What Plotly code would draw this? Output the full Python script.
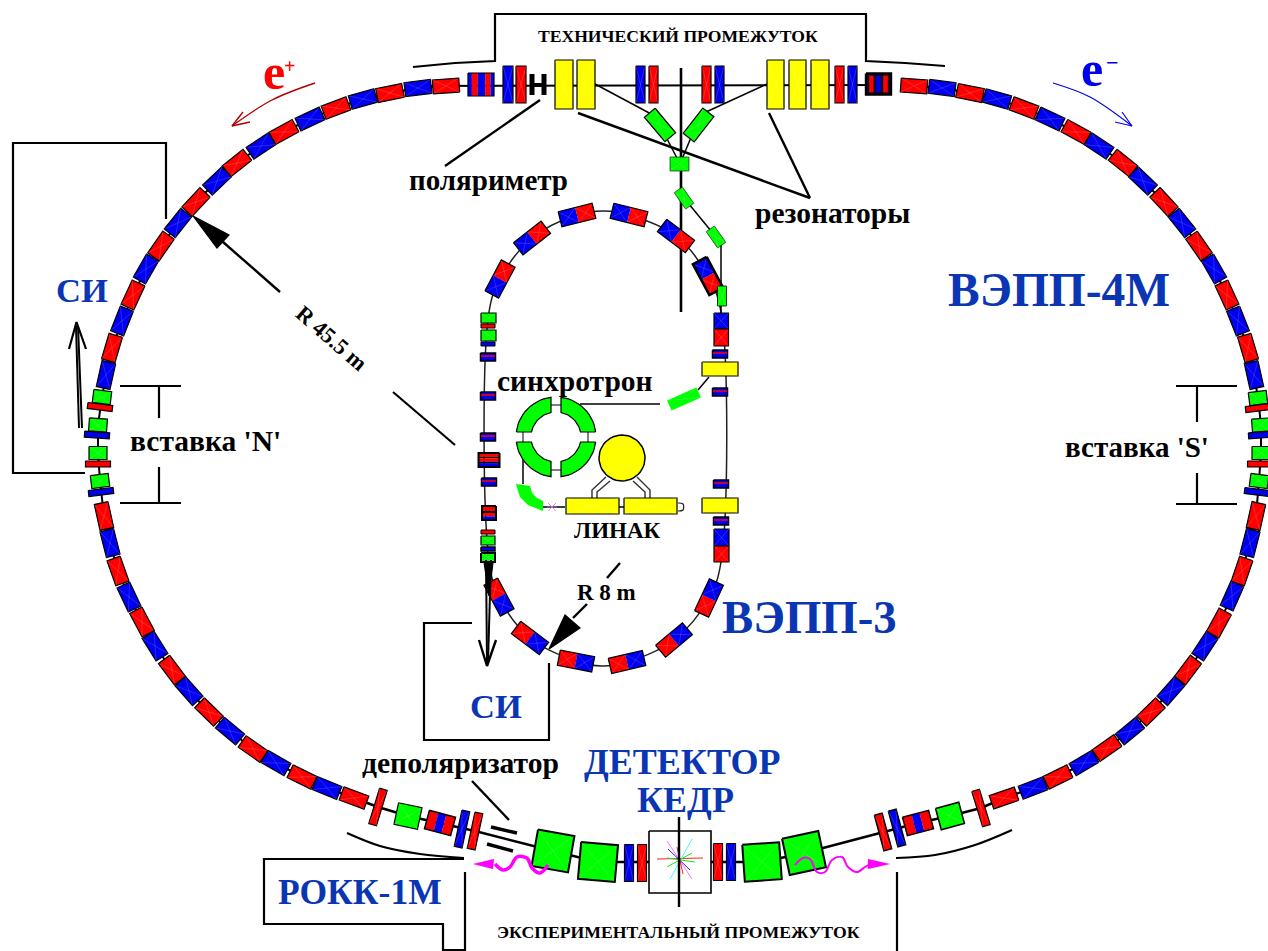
import math
import plotly.graph_objects as go

RED, BLUE, GREEN, YEL, BK = "#ff0000", "#0000f0", "#00ff00", "#ffff00", "#000000"
LBL = "#0a36b4"

# ---- VEPP-4M ring dipoles: centres, colour letters
upper_right_x = [914, 942, 970, 997, 1024, 1050, 1076, 1099, 1123, 1143, 1164, 1182, 1199, 1214, 1227, 1238, 1248, 1254]
upper_right_y = [86, 88, 93, 99, 108, 119, 132, 146, 163, 181, 202, 223, 246, 269, 295, 321, 348, 375]
upper_right_c = "RBRBRBRBRBRBRBRBRB"
upper_left_x = [446, 418, 390, 363, 336, 310, 284, 261, 237, 217, 196, 178, 161, 146, 133, 122, 112, 106]
upper_left_y = [86, 88, 93, 99, 108, 119, 132, 146, 163, 181, 202, 223, 246, 269, 295, 321, 348, 375]
upper_left_c = "RBRBRBRBRBRBRBRBRB"
lower_left_x = [104, 110, 118, 129, 142, 155, 172, 189, 209, 230, 253, 276, 302, 327, 354]
lower_left_y = [516, 543, 571, 597, 622, 646, 670, 691, 712, 731, 749, 763, 777, 788, 798]
lower_left_c = "RBRBRBRBRBRBRBR"
lower_right_x = [1256, 1250, 1242, 1232, 1219, 1205, 1188, 1171, 1151, 1130, 1107, 1084, 1058, 1033, 1004]
lower_right_y = [516, 543, 571, 596, 623, 646, 670, 691, 712, 731, 748, 763, 777, 788, 798]
lower_right_c = "RBRBRBRBRBRBRBR"

# ---- insertion straight sections
ins_left_gx = [102, 98, 98, 100]
ins_left_gy = [397, 425, 453, 481]
ins_left_tx = [100, 97, 98, 101]
ins_left_ty = [407, 435, 464, 492]
ins_tilt = [7, 4, 0, -7]
ins_right_gx = [1258, 1261, 1261, 1259]
ins_right_gy = [398, 425, 453, 481]
ins_right_tx = [1258, 1261, 1260, 1257]
ins_right_ty = [408, 435, 464, 492]
ins_c = "RBRB"

# ---- technical gap, straight elements (x0, x1)
top_yellow = [(555, 573), (577, 595), (767, 784), (789, 806), (811, 829)]
top_thin = [(503, 513, "B"), (516, 526, "R"), (636, 645, "B"), (649, 658, "R"),
            (702, 711, "R"), (715, 724, "B"), (835, 844, "R"), (848, 857, "B")]

# ---- experimental gap elements: x, y, len, width, angle, colour, border
exp_x = [378, 408, 462, 475, 553, 598, 629, 642, 718, 731, 762, 804, 883, 897, 950, 981]
exp_y = [807, 816, 829, 831, 851, 862, 863, 863, 862, 862, 862, 853, 832, 828, 816, 808]
exp_len = [8, 24, 8, 8, 37, 37, 9, 9, 9, 9, 37, 37, 8, 8, 24, 8]
exp_wid = [37, 22, 37, 37, 37, 37, 37, 37, 37, 37, 37, 37, 37, 37, 22, 37]
exp_ang = [17, 12, 12, 12, 10, 5, 0, 0, 0, 0, -4, -12, -15, -15, -15, -17]
exp_col = "RGBRGGBRRBGGRBGR"
exp_lw = [1.2, 1.2, 1.2, 1.2, 2, 2, 1.2, 1.2, 1.2, 1.2, 2, 2, 1.5, 1.5, 1.5, 1.2]

# ---- VEPP-3 dipoles: x, y, angle, first/second half colours, border
v3_x = [500, 532, 577, 629, 676, 708, 709, 674, 627, 576, 530, 499]
v3_y = [279, 238, 215, 215, 236, 276, 598, 640, 662, 661, 638, 597]
v3_ang = [-62, -38, -14, 14, 37, 62, -65, -40, -13, 11, 37, 62]
v3_c1 = "BBBBBBRRRRRR"
v3_c2 = "RRRRRRBBBBBB"
v3_lw = [1.2, 1.2, 1.2, 1.2, 1.2, 2.6, 1.2, 1.2, 1.2, 1.2, 1.2, 1.2]
v3_thin_x = [488, 488, 488, 489, 720, 720, 721, 721]
v3_thin_y = [357, 396, 437, 482, 354, 392, 484, 521]

beam_top_x = [406, 890]
beam_top_y = [86, 85]
beam_exp_x = [354, 378, 408, 440, 475, 553, 598, 680, 762, 804, 883, 918, 950, 981, 1004]
beam_exp_y = [798, 807, 816, 823, 831, 851, 862, 862, 862, 853, 832, 823, 816, 808, 798]
beam_v3_x = [489, 489, 500, 532, 577, 604, 629, 676, 708, 721, 721, 709, 674, 627, 602, 576, 530, 499, 489]
beam_v3_y = [560, 312, 279, 238, 215, 211, 215, 236, 276, 312, 562, 598, 640, 662, 666, 661, 638, 597, 560]

star_x0 = [657, 667, 692, 668, 667, 692, 677]
star_y0 = [859, 841, 839, 849, 858, 853, 847]
star_x1 = [703, 692, 670, 690, 695, 667, 683]
star_y1 = [858, 879, 879, 870, 862, 867, 874]
star_col = ["#ff2020", "#ff70ff", "#40ffff", "#2020ff", "#20e020", "#20e020", "#ff2020"]

labels = [
    ("ТЕХНИЧЕСКИЙ ПРОМЕЖУТОК", 678, 36, 17.6, BK, 0),
    ("ЭКСПЕРИМЕНТАЛЬНЫЙ ПРОМЕЖУТОК", 678, 932, 17.7, BK, 0),
    ("поляриметр", 488, 180, 29, BK, 0),
    ("резонаторы", 832, 213, 29.5, BK, 0),
    ("синхротрон", 575, 381, 29.5, BK, 0),
    ("вставка 'N'", 205, 441, 29.5, BK, 0),
    ("вставка 'S'", 1137, 447, 29, BK, 0),
    ("ЛИНАК", 617, 530, 23, BK, 0),
    ("R 8 m", 606, 592, 23, BK, 0),
    ("R 45.5 m", 332, 338, 22.5, BK, 41),
    ("деполяризатор", 460, 763, 29.6, BK, 0),
    ("ВЭПП-4М", 1059, 290, 47.5, LBL, 0),
    ("ВЭПП-3", 809, 617, 46.8, LBL, 0),
    ("СИ", 82, 290, 34.5, LBL, 0),
    ("СИ", 496, 706, 34.5, LBL, 0),
    ("ДЕТЕКТОР", 682, 762, 36, LBL, 0),
    ("КЕДР", 685, 800, 36, LBL, 0),
    ("РОКК-1М", 360, 892, 35.5, LBL, 0),
    ("e", 274, 72, 50, RED, 0),
    ("+", 289, 66, 20, RED, 0),
    ("e", 1092, 69, 50, BLUE, 0),
    ("−", 1112, 62, 22, BLUE, 0),
]

COL = {"R": RED, "B": BLUE, "G": GREEN, "Y": YEL}
fig = go.Figure()


def line(xs, ys, w=2, c=BK, smooth=False):
    fig.add_trace(go.Scatter(x=list(xs), y=list(ys), mode="lines", hoverinfo="skip",
                             line=dict(color=c, width=w, shape="spline" if smooth else "linear")))


def poly(xs, ys, fill, lw=1.2, c=BK):
    xs, ys = list(xs), list(ys)
    fig.add_trace(go.Scatter(x=xs + xs[:1], y=ys + ys[:1], mode="lines", fill="toself",
                             fillcolor=fill, hoverinfo="skip",
                             line=dict(color=c if lw > 0 else fill, width=max(lw, 0.1))))


def corners(cx, cy, L, W, ang):
    a = math.radians(ang)
    ux, uy, vx, vy = math.cos(a), math.sin(a), -math.sin(a), math.cos(a)
    return [(cx + s * L / 2 * ux + t * W / 2 * vx, cy + s * L / 2 * uy + t * W / 2 * vy)
            for s, t in ((-1, -1), (1, -1), (1, 1), (-1, 1))]


def rect(cx, cy, L, W, ang, fill, lw=1.2, cross=True):
    p = corners(cx, cy, L, W, ang)
    poly([q[0] for q in p], [q[1] for q in p], fill, lw)
    if cross:
        fig.add_trace(go.Scatter(
            x=[p[0][0], p[2][0], None, p[1][0], p[3][0]],
            y=[p[0][1], p[2][1], None, p[1][1], p[3][1]],
            mode="lines", hoverinfo="skip",
            line=dict(color="rgba(255,255,255,0.22)", width=0.7)))


def box(x0, x1, y0, y1, fill, lw=1.2, cross=True):
    rect((x0 + x1) / 2, (y0 + y1) / 2, x1 - x0, y1 - y0, 0, fill, lw, cross)


def striped(cx, cy, L, W, ang, stripes, lw=1.5):
    a = math.radians(ang)
    for s0, s1, c in stripes:
        m = (s0 + s1) / 2 - 0.5
        rect(cx + m * L * math.cos(a), cy + m * L * math.sin(a), (s1 - s0) * L, W, ang, c, 0, False)
    p = corners(cx, cy, L, W, ang)
    line([q[0] for q in p] + [p[0][0]], [q[1] for q in p] + [p[0][1]], lw)


def tangents(xs, ys):
    n = len(xs)
    out = []
    for i in range(n):
        a, b = max(i - 1, 0), min(i + 1, n - 1)
        out.append(math.degrees(math.atan2(ys[b] - ys[a], xs[b] - xs[a])))
    return out


def thin_v3(x, y):
    rect(x, y, 15, 8, 0, BLUE, 1.5, False)
    line([x - 7, x + 7], [y - 1, y - 1], 1.5, RED)


# -------------------------- frames and leader lines
line([413, 455, 495, 495, 866, 866, 905, 945], [67, 63, 61, 14, 14, 61, 63, 66], 2.2)
line([166, 166, 13, 13, 85], [219, 143, 143, 473, 473], 2.2)
line([472, 424, 424, 549, 549], [623, 623, 740, 740, 663], 2.2)
line([464, 264, 264, 443, 443, 465, 465], [859, 859, 924, 924, 950, 950, 872], 2.2)
line([347, 380, 420, 464], [833, 846, 854, 858], 2.2, BK, True)
line([896, 935, 975, 1012], [858, 855, 845, 830], 2.2, BK, True)
line([897, 897], [872, 951], 2.2)
line([120, 181], [386, 386], 2.2); line([159, 159], [386, 418], 2.2)
line([120, 181], [503, 503], 2.2); line([159, 159], [467, 503], 2.2)
line([1176, 1237], [386, 386], 2.2); line([1197, 1197], [386, 422], 2.2)
line([1176, 1237], [504, 504], 2.2); line([1197, 1197], [473, 504], 2.2)
line([445, 540], [166, 100], 2.4)
line([578, 810], [113, 198], 2.4)
line([769, 810], [113, 198], 2.4)
line([472, 509], [781, 820], 2.4)
line([491, 517], [827, 833], 3.4)
line([487, 513], [844, 851], 3.4)
line([455, 393], [445, 392], 2.2)
line([280, 223], [292, 242], 2.4)
poly([193, 229, 217], [216, 235, 248], BK)
line([620, 607], [563, 578], 2.4)
line([587, 573], [604, 618], 2.4)
poly([549, 565, 580], [649, 615, 628], BK)

# -------------------------- beam pipes
for ax, ay in ((upper_right_x, upper_right_y), (upper_left_x, upper_left_y),
               (lower_left_x, lower_left_y), (lower_right_x, lower_right_y)):
    line(ax, ay, 2)
line([106, 102, 98, 98, 100, 104], [375, 397, 425, 453, 481, 516], 2)
line([1254, 1258, 1261, 1261, 1259, 1256], [375, 398, 425, 453, 481, 516], 2)
line(beam_top_x, beam_top_y, 2)
line(beam_exp_x, beam_exp_y, 2.5)
line(beam_v3_x, beam_v3_y, 1.5, "#202020", True)

# transfer lines
line([595, 653], [84, 115], 1.5)
line([767, 706], [84, 112], 1.5)
line([664, 680], [133, 164], 1.5)
line([692, 680], [135, 164], 1.5)
line([681, 681], [68, 312], 2.6)
line([684, 716], [198, 237], 1.5)
line([721, 721], [245, 315], 1.5)
line([580, 660], [404, 404], 1.5)
line([698, 709], [390, 377], 1.5)
line([523, 523], [458, 484], 1.5)
line([543, 565], [507, 507], 1.5)
line([619, 624], [507, 507], 1.5)
line([678, 683, 683, 678], [503, 504, 510, 511], 1.2, "#202020", True)
line([551, 561], [405, 405], 1.5, "#555555")
line([523, 523], [432, 442], 1.5, "#555555")
line([588, 588], [432, 442], 1.5, "#555555")
line([551, 561], [470, 470], 1.5, "#555555")
for wx, wy in (([606, 592, 592], [477, 490, 498]), ([610, 597, 597], [481, 492, 498]),
               ([637, 650, 650], [477, 490, 498]), ([633, 645, 645], [481, 492, 498])):
    line(wx, wy, 1.4, "#303030")

# -------------------------- ring dipoles
for ax, ay, ac in ((upper_right_x, upper_right_y, upper_right_c), (upper_left_x, upper_left_y, upper_left_c),
                   (lower_left_x, lower_left_y, lower_left_c), (lower_right_x, lower_right_y, lower_right_c)):
    for x, y, t, c in zip(ax, ay, tangents(ax, ay), ac):
        rect(x, y, 26.5, 14, t, COL[c])

# insertion quadrupoles
for gx, gy, tx, ty, c, k in zip(ins_left_gx, ins_left_gy, ins_left_tx, ins_left_ty, ins_c, ins_tilt):
    rect(gx, gy, 18, 13, k, GREEN)
    rect(tx, ty, 25, 6, k, COL[c], 1.2, False)
for gx, gy, tx, ty, c, k in zip(ins_right_gx, ins_right_gy, ins_right_tx, ins_right_ty, ins_c, ins_tilt):
    rect(gx, gy, 18, 13, -k, GREEN)
    rect(tx, ty, 25, 6, -k, COL[c], 1.2, False)

# technical gap
for x0, x1 in top_yellow:
    box(x0, x1, 60, 109, YEL)
for x0, x1, c in top_thin:
    box(x0, x1, 66, 103, COL[c])
striped(481, 84.5, 26, 23, 0, [(0, .15, BLUE), (.15, .38, RED), (.38, .66, BLUE), (.66, .87, RED), (.87, 1, BLUE)], 1.2)
striped(878.5, 84, 25, 21, 0, [(0, 1, "#101030")], 2.4)
striped(878.5, 84, 19, 17, 0, [(0, .25, RED), (.25, .38, "#101030"), (.38, .62, BLUE),
                               (.62, .75, "#101030"), (.75, 1, RED)], 0.3)
line([532, 532], [74, 95], 5)
line([544, 544], [74, 95], 5)
line([532, 544], [85, 85], 4)

# experimental gap
for x, y, L, W, a, c, lw in zip(exp_x, exp_y, exp_len, exp_wid, exp_ang, exp_col, exp_lw):
    rect(x, y, L, W, a, COL[c], lw)
rbr = [(0, .35, RED), (.35, .65, BLUE), (.65, 1, RED)]
striped(440, 823, 27, 19, 15, rbr)
striped(918, 823, 27, 19, -15, rbr)

# detector
box(649, 711, 831, 893, "#ffffff", 1.6, False)
for x0, y0, x1, y1, c in zip(star_x0, star_y0, star_x1, star_y1, star_col):
    line([x0, x1], [y0, y1], 1, c)
line([679, 679], [817, 907], 2.4)

# magenta photon wiggles
line([495, 503, 510, 517, 527, 532, 540, 548], [864, 870, 867, 857, 858, 868, 873, 865], 3.5, "#ff00ff", True)
poly([473, 494, 493], [864, 859, 869], "#ff00ff", 0)
line([795, 803, 810, 817, 825, 832, 842, 848, 857, 865, 870],
     [865, 858, 859, 872, 872, 860, 857, 867, 872, 867, 864], 2, "#ff00ff", True)
poly([890, 868, 868], [864, 859, 869], "#ff00ff", 0)

# VEPP-3 dipoles
for x, y, a, c1, c2, lw in zip(v3_x, v3_y, v3_ang, v3_c1, v3_c2, v3_lw):
    r = math.radians(a)
    dx, dy = 8.75 * math.cos(r), 8.75 * math.sin(r)
    rect(x - dx, y - dy, 17.5, 15.5, a, COL[c1], 0)
    rect(x + dx, y + dy, 17.5, 15.5, a, COL[c2], 0)
    p = corners(x, y, 35, 15.5, a)
    line([q[0] for q in p] + [p[0][0]], [q[1] for q in p] + [p[0][1]], lw)

# VEPP-3 straight elements
for x, y in zip(v3_thin_x, v3_thin_y):
    thin_v3(x, y)
box(481, 496, 313, 323, GREEN)
box(481, 495, 324, 328, RED, 1, False)
box(481, 496, 330, 341, GREEN)
box(481, 495, 342, 346, BLUE, 1, False)
striped(489, 460, 14, 21, 90, [(0, .28, RED), (.28, .38, BK), (.38, .62, RED), (.62, .72, BK), (.72, 1, BLUE)], 2)
striped(489, 513, 14, 14, 90, [(0, .35, RED), (.35, .5, BK), (.5, .75, RED), (.75, 1, BLUE)], 2)
box(481, 495, 530, 534, RED, 1, False)
box(481, 495, 536, 545, GREEN)
box(481, 495, 547, 551, BLUE, 1.5, False)
box(481, 495, 553, 562, GREEN, 2)
box(702, 738, 362, 376, YEL)
box(702, 738, 498, 513, YEL)
box(714, 728.5, 313, 329, BLUE)
box(714, 728.5, 329, 346, RED)
box(714, 729, 529, 546, BLUE)
box(714, 729, 546, 562, RED)
rect(722, 296, 9, 20, 0, GREEN, 0.8)
rect(679.5, 164, 19, 14, 0, GREEN, 0.6)
rect(660, 125, 32, 14, 50, GREEN)
rect(698.5, 125, 32, 14, -52, GREEN)
rect(684, 198, 20, 10, 55, GREEN, 0.6)
rect(716, 237, 20, 10, 55, GREEN, 0.6)
rect(684, 399, 32, 11, -24, GREEN, 0)

# synchrotron
cx, cy, ro, ri, gap = 556, 437, 40, 25, 5
for sx, sy in ((1, -1), (-1, -1), (-1, 1), (1, 1)):
    a0o, a1o = math.degrees(math.asin(gap / ro)), 90 - math.degrees(math.asin(gap / ro))
    a0i, a1i = math.degrees(math.asin(gap / ri)), 90 - math.degrees(math.asin(gap / ri))
    px, py = [], []
    for k in range(15):
        t = math.radians(a0o + (a1o - a0o) * k / 14)
        px.append(cx + sx * ro * math.cos(t)); py.append(cy + sy * ro * math.sin(t))
    for k in range(15):
        t = math.radians(a1i - (a1i - a0i) * k / 14)
        px.append(cx + sx * ri * math.cos(t)); py.append(cy + sy * ri * math.sin(t))
    poly(px, py, GREEN, 1.2)
poly([516, 520, 528, 543, 543, 537, 532, 530], [484, 497, 505, 511, 501, 498, 493, 486], GREEN, 0)
line([547, 557], [507, 507], 1, "#8060ff")
line([548, 556], [503, 511], 0.8, "#ff70a0")
line([548, 556], [511, 503], 0.8, "#ff70a0")
box(566, 619, 498, 514, YEL, 1.2)
box(624, 677, 498, 514, YEL, 1.2)
th = [2 * math.pi * k / 48 for k in range(48)]
poly([622 + 23 * math.cos(t) for t in th], [458 + 23 * math.sin(t) for t in th], YEL, 1.5)

# synchrotron radiation arrows
line([79, 76], [428, 326], 2)
line([82, 78], [428, 326], 2)
line([69, 76.5, 86], [349, 322, 349], 2.2)
line([486, 487], [560, 662], 2)
line([491, 488], [560, 662], 2)
poly([484, 493, 489], [562, 562, 596], BK)
line([479, 487, 496], [640, 666, 640], 2.4)

# particle direction arrows
line([315, 272, 232], [83, 100, 126], 1.4, "#b00000", True)
line([250, 232, 243], [122, 126, 112], 1.4, "#b00000")
line([1053, 1090, 1132], [83, 97, 126], 1.2, BLUE, True)
line([1115, 1132, 1122], [122, 126, 112], 1.2, BLUE)

for text, x, y, size, colr, rot in labels:
    fig.add_annotation(x=x, y=y, text="<b>%s</b>" % text, showarrow=False, textangle=rot,
                       xanchor="center", yanchor="middle",
                       font=dict(family="Liberation Serif", size=size, color=colr))

fig.update_layout(
    width=1268, height=951, margin=dict(l=0, r=0, t=0, b=0, pad=0),
    plot_bgcolor="white", paper_bgcolor="white", showlegend=False,
    xaxis=dict(range=[0, 1268], visible=False, fixedrange=True),
    yaxis=dict(range=[951, 0], visible=False, fixedrange=True),
)
fig.write_html("out.html", config={"displayModeBar": False},
               post_script="document.body.style.margin='0';document.body.style.overflow='hidden';")
